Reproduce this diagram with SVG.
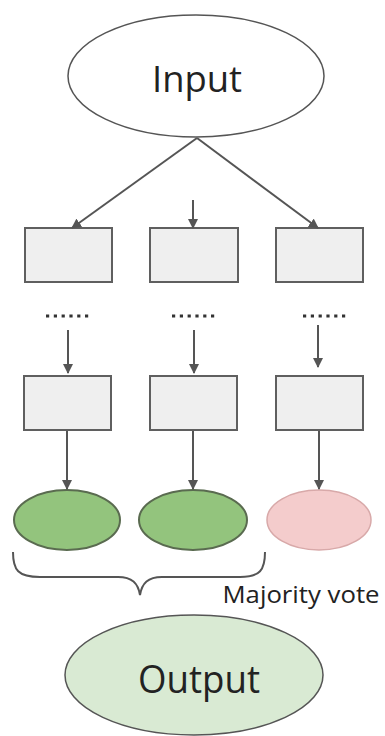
<svg xmlns="http://www.w3.org/2000/svg" width="385" height="736" viewBox="0 0 385 736">
<defs>
<style>
.box{fill:#efefef;stroke:#5f5f5f;stroke-width:2}
.edge{stroke:#555;stroke-width:2;fill:none}
.dots{stroke:#333;stroke-width:3.2;stroke-dasharray:3.2 4.6}
.txt{font-family:"Open Sans","Noto Sans",sans-serif;fill:#222;text-anchor:middle}
</style>
<marker id="ah" viewBox="0 0 10 10" refX="9" refY="5" markerWidth="5" markerHeight="5" orient="auto" markerUnits="strokeWidth">
<path d="M0,0 L10,5 L0,10 z" fill="#555"/>
</marker>
</defs>
<rect width="385" height="736" fill="#fff"/>
<g id="input">
<ellipse cx="196" cy="76" rx="128" ry="61" fill="#fff" stroke="#555" stroke-width="1.5"/>
<text class="txt" x="197" y="92" font-size="37" textLength="90" lengthAdjust="spacingAndGlyphs">Input</text>
</g>
<g id="box1a"><rect class="box" x="25" y="228" width="87" height="54"/></g>
<g id="box2a"><rect class="box" x="150" y="228" width="88" height="54"/></g>
<g id="box3a"><rect class="box" x="276" y="228" width="87" height="54"/></g>
<g id="dots1"><line class="dots" x1="46" y1="316" x2="90" y2="316"/></g>
<g id="dots2"><line class="dots" x1="172" y1="316" x2="216" y2="316"/></g>
<g id="dots3"><line class="dots" x1="303" y1="316" x2="347" y2="316"/></g>
<g id="box1b"><rect class="box" x="24" y="376" width="87" height="54"/></g>
<g id="box2b"><rect class="box" x="150" y="376" width="87" height="54"/></g>
<g id="box3b"><rect class="box" x="276" y="376" width="87" height="54"/></g>
<g id="res1"><ellipse cx="67" cy="520" rx="53" ry="30" fill="#93c47d" stroke="#5a6b50" stroke-width="2"/></g>
<g id="res2"><ellipse cx="193" cy="520" rx="54" ry="30" fill="#93c47d" stroke="#5a6b50" stroke-width="2"/></g>
<g id="res3"><ellipse cx="319" cy="520" rx="52" ry="30" fill="#f4cccc" stroke="#d8a9a9" stroke-width="1.5"/></g>
<g id="brace">
<path class="edge" d="M13,552 C13,570 18,577 40,577 L118,577 C132,577 138,583 140,595 C142,583 148,577 162,577 L240,577 C260,577 265,570 265,552" stroke-width="1.8"/>
<text class="txt" x="301" y="603" font-size="23" textLength="157" lengthAdjust="spacingAndGlyphs">Majority vote</text>
</g>
<g id="output">
<ellipse cx="194" cy="675" rx="129" ry="60" fill="#d9ead3" stroke="#555" stroke-width="1.5"/>
<text class="txt" x="199" y="693" font-size="38" textLength="122" lengthAdjust="spacingAndGlyphs">Output</text>
</g>
<g id="connectors">
<line class="edge" x1="197" y1="138" x2="72" y2="228" marker-end="url(#ah)"/>
<line class="edge" x1="197" y1="138" x2="318" y2="228" marker-end="url(#ah)"/>
<line class="edge" x1="193" y1="200" x2="193" y2="228" marker-end="url(#ah)"/>
<line class="edge" x1="68" y1="330" x2="68" y2="373" marker-end="url(#ah)"/>
<line class="edge" x1="194" y1="330" x2="194" y2="373" marker-end="url(#ah)"/>
<line class="edge" x1="318" y1="325" x2="318" y2="367" marker-end="url(#ah)"/>
<line class="edge" x1="67" y1="431" x2="67" y2="489" marker-end="url(#ah)"/>
<line class="edge" x1="193" y1="431" x2="193" y2="489" marker-end="url(#ah)"/>
<line class="edge" x1="319" y1="431" x2="319" y2="489" marker-end="url(#ah)"/>
</g>
</svg>
